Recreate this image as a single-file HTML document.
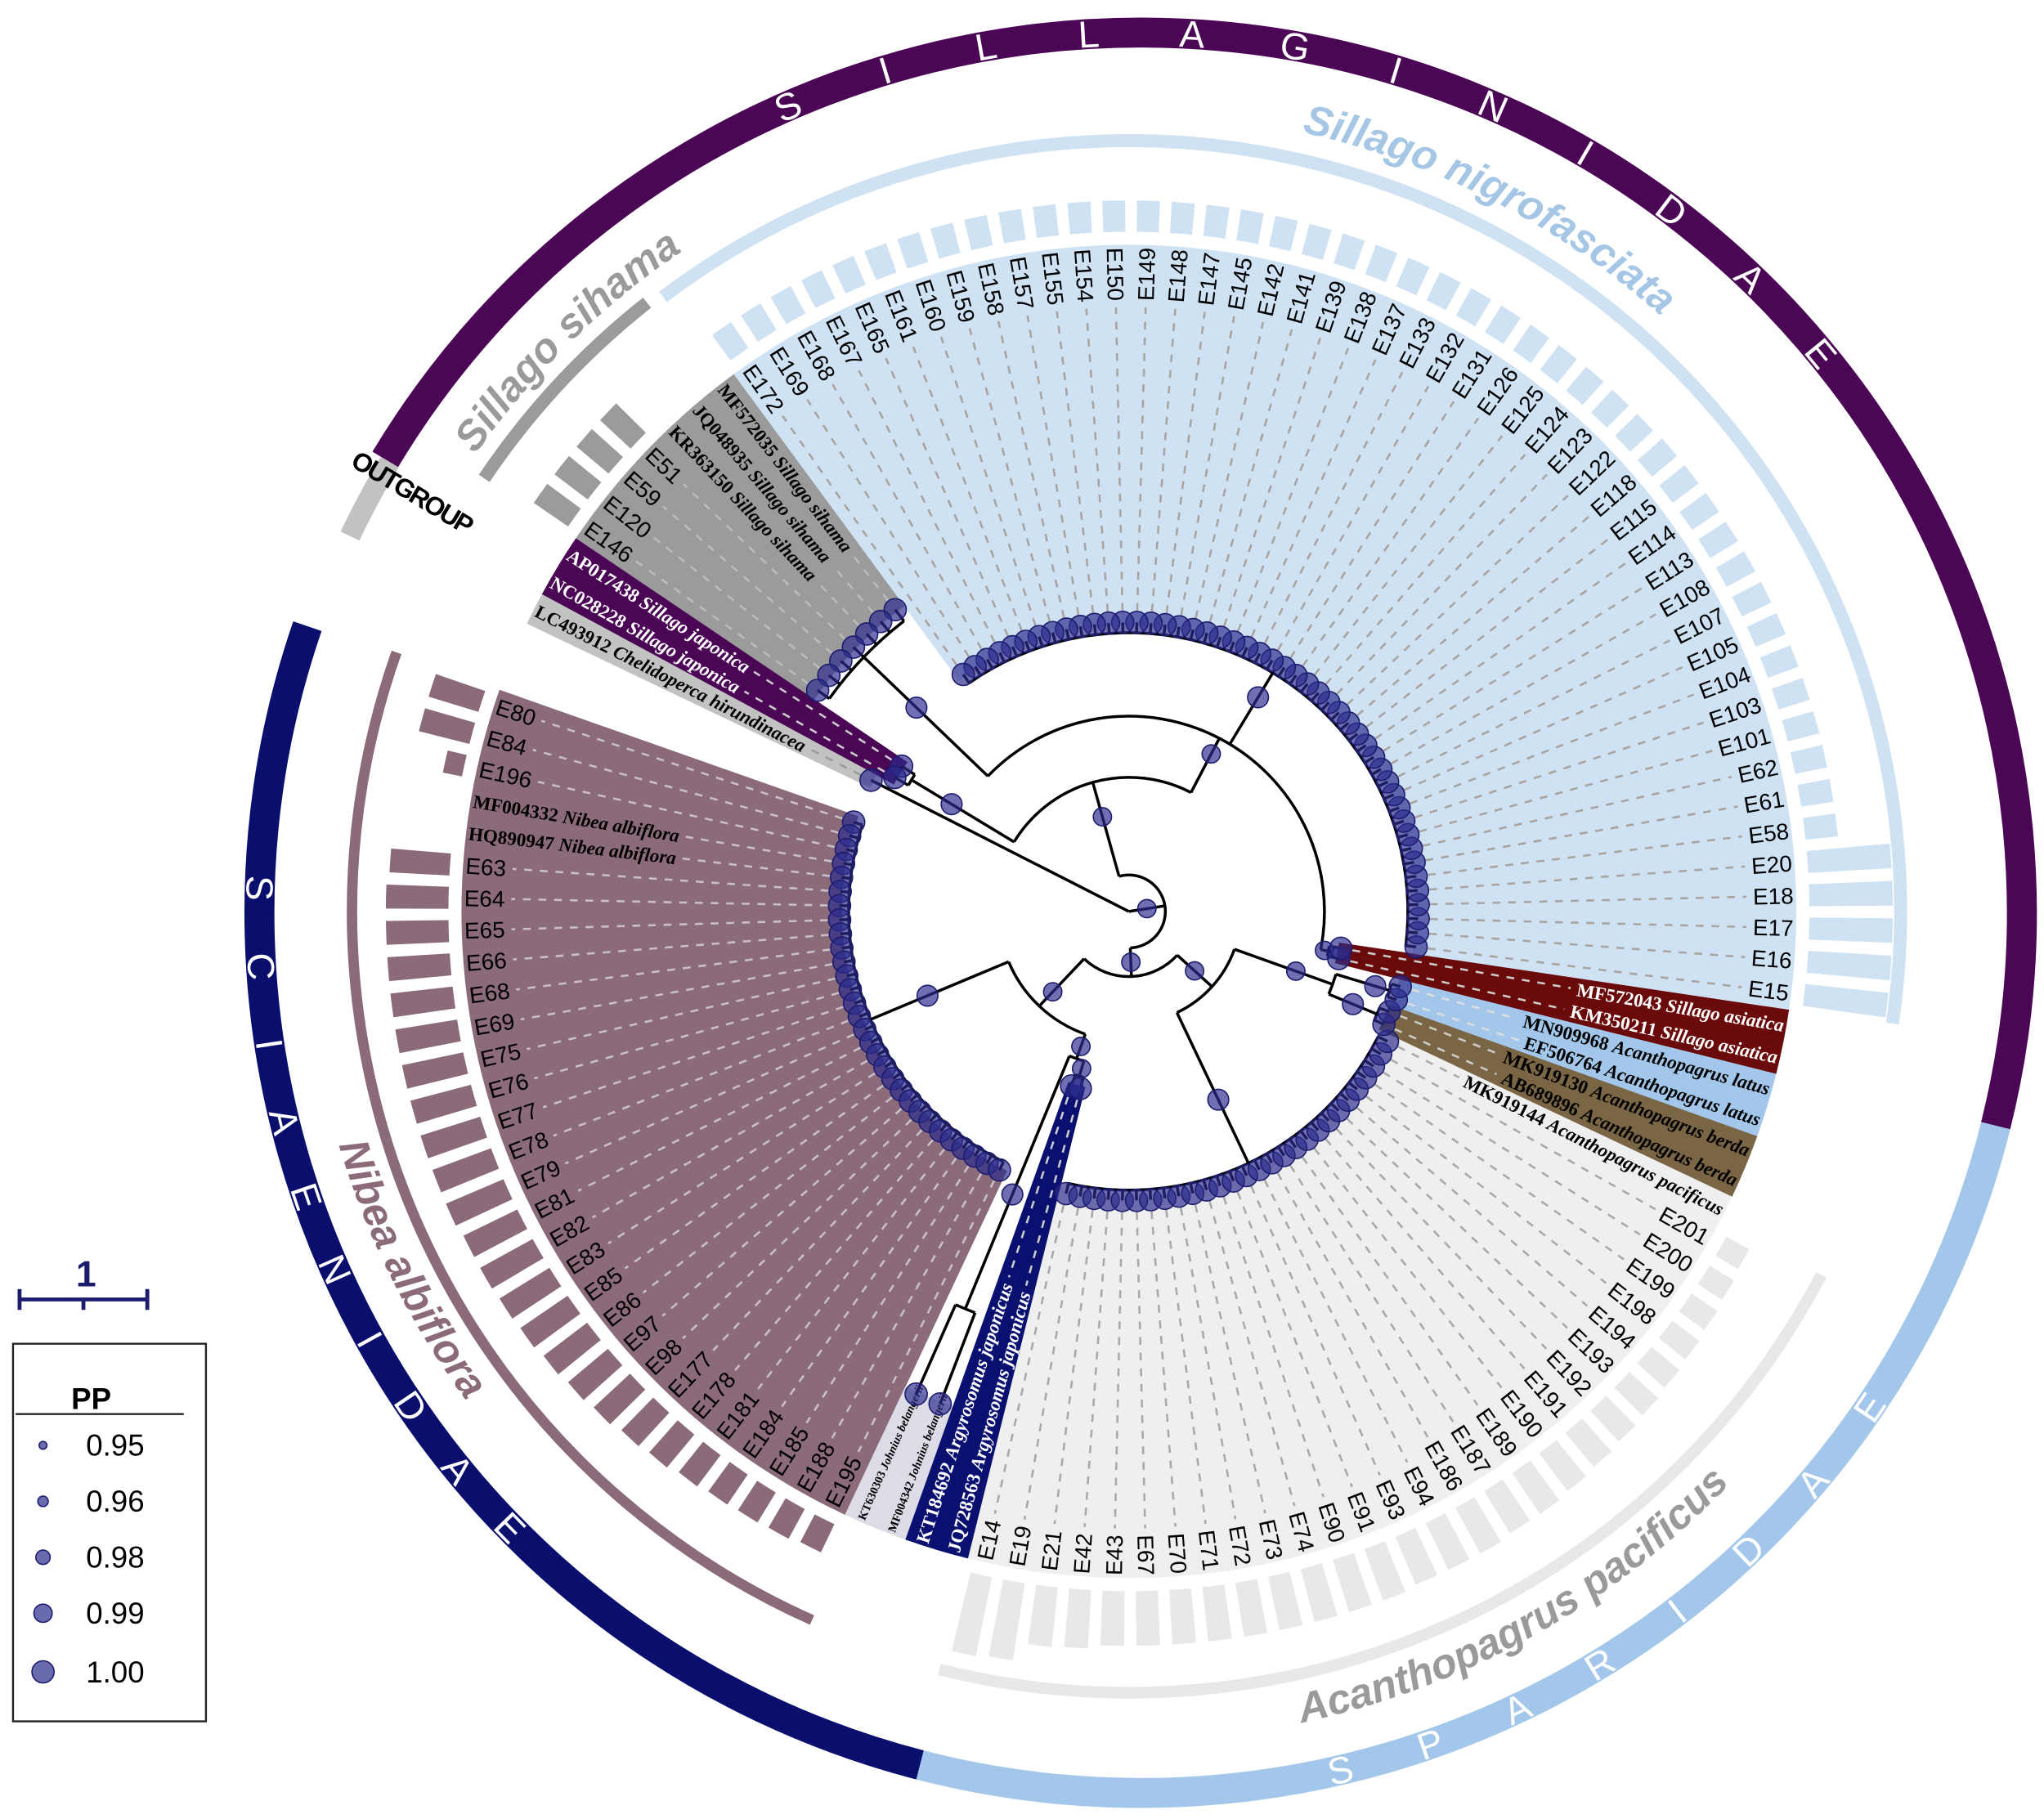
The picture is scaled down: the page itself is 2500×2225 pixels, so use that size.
<!DOCTYPE html>
<html><head><meta charset="utf-8">
<style>
html,body{margin:0;padding:0;background:#fff;overflow:hidden}
svg{display:block}
</style></head>
<body>
<svg id="chart" xmlns="http://www.w3.org/2000/svg" viewBox="0 0 1568 1397" width="2500" height="2225" preserveAspectRatio="none">
<defs id="defs"></defs>
<g id="layer-bands"></g>
<g id="layer-bars"></g>
<g id="layer-arcs"></g>
<g id="layer-ring"></g>
<g id="layer-labels"></g>
<g id="layer-tree"></g>
<g id="layer-dots"></g>
<g id="legend">
  <g stroke="#1c1c6e" stroke-width="3" fill="none">
    <line x1="15" y1="998" x2="113" y2="998"/>
    <line x1="15" y1="990" x2="15" y2="1006"/>
    <line x1="64" y1="998" x2="64" y2="1006"/>
    <line x1="113" y1="990" x2="113" y2="1006"/>
  </g>
  <text x="66" y="988" text-anchor="middle" font-family="Liberation Sans, sans-serif" font-size="28" font-weight="bold" fill="#1c1c6e">1</text>
  <rect x="10" y="1032" width="148" height="290" fill="#fff" stroke="#222" stroke-width="1.5"/>
  <text x="70" y="1082" text-anchor="middle" font-family="Liberation Sans, sans-serif" font-size="23" font-weight="bold">PP</text>
  <line x1="12" y1="1086" x2="141" y2="1086" stroke="#222" stroke-width="1.5"/>
  <g><circle cx="33" cy="1110" r="3" fill="#2b2b8c" fill-opacity="0.7" stroke="#1c1c6e"/><text x="66" y="1118" font-family="Liberation Sans, sans-serif" font-size="23">0.95</text></g>
  <g><circle cx="33" cy="1153" r="4" fill="#2b2b8c" fill-opacity="0.7" stroke="#1c1c6e"/><text x="66" y="1161" font-family="Liberation Sans, sans-serif" font-size="23">0.96</text></g>
  <g><circle cx="33" cy="1196" r="5.5" fill="#2b2b8c" fill-opacity="0.7" stroke="#1c1c6e"/><text x="66" y="1204" font-family="Liberation Sans, sans-serif" font-size="23">0.98</text></g>
  <g><circle cx="33" cy="1239" r="7" fill="#2b2b8c" fill-opacity="0.7" stroke="#1c1c6e"/><text x="66" y="1247" font-family="Liberation Sans, sans-serif" font-size="23">0.99</text></g>
  <g><circle cx="33" cy="1284" r="8.5" fill="#2b2b8c" fill-opacity="0.7" stroke="#1c1c6e"/><text x="66" y="1292" font-family="Liberation Sans, sans-serif" font-size="23">1.00</text></g>
</g>
</svg>
<script>
// ---------- data (leaf order = decreasing angle from E80) ----------
const nibeaNames=["E80","E84","E196","MF004332 Nibea albiflora","HQ890947 Nibea albiflora","E63","E64","E65","E66","E68","E69","E75","E76","E77","E78","E79","E81","E82","E83","E85","E86","E97","E98","E177","E178","E181","E184","E185","E188","E195"];
const nibeaBars=[40,40,15,0,0,46,48,48,48,48,48,48,48,48,48,48,46,46,45,44,42,40,38,35,33,30,28,27,26,24];
const johniusNames=["KT630303 Johnius belangerii","MF004342 Johnius belangerii"];
const argyroNames=["KT184692 Argyrosomus japonicus","JQ728563 Argyrosomus japonicus"];
const pacNames=["E14","E19","E21","E42","E43","E67","E70","E71","E72","E73","E74","E90","E91","E93","E94","E186","E187","E189","E190","E191","E192","E193","E194","E198","E199","E200","E201","MK919144 Acanthopagrus pacificus"];
const pacBars=[62,60,46,45,42,42,42,42,42,42,42,42,42,40,40,40,38,38,36,34,32,30,28,26,24,22,20,0];
const berdaNames=["AB689896 Acanthopagrus berda","MK919130 Acanthopagrus berda"];
const latusNames=["EF506764 Acanthopagrus latus","MN909968 Acanthopagrus latus"];
const asiaticaNames=["KM350211 Sillago asiatica","MF572043 Sillago asiatica"];
const nigroNames=["E15","E16","E17","E18","E20","E58","E61","E62","E101","E103","E104","E105","E107","E108","E113","E114","E115","E118","E122","E123","E124","E125","E126","E131","E132","E133","E137","E138","E139","E141","E142","E145","E147","E148","E149","E150","E154","E155","E157","E158","E159","E160","E161","E165","E167","E168","E169","E172"];
const nigroBars=[64,64,64,64,64,25,25,25,25,25,25,25,25,25,25,25,25,25,24,24,24,24,24,24,24,24,24,24,24,24,24,24,24,24,24,24,24,24,24,24,24,24,24,24,24,24,24,24];
const sihamaNames=["MF572035 Sillago sihama","JQ048935 Sillago sihama","KR363150 Sillago sihama","E51","E59","E120","E146"];
const sihamaBars=[0,0,0,32,32,32,32];
const japonicaNames=["AP017438 Sillago japonica","NC028228 Sillago japonica"];
const outgroupNames=["LC493912 Chelidoperca hirundinacea"];
// tip depth (branch length radius) per clade, same order as clades below
const tipDepth=[222,405,141,222,214,216,165,222,293,207,222];

// ---------- styling config ----------
const clades=[
 {key:"nibea",names:nibeaNames,bars:nibeaBars,band:"#8b6b79",bar:"#8b6b79",txt:"#000",dash:"#c9c0c4"},
 {key:"johnius",names:johniusNames,bars:null,band:"#dcdbe6",txt:"#000",dash:"#aaa",small:true},
 {key:"argyrosomus",names:argyroNames,bars:null,band:"#0a1070",txt:"#fff",dash:"#ccc"},
 {key:"pacificus",names:pacNames,bars:pacBars,band:"#efefef",bar:"#e8e8e8",txt:"#000",dash:"#a8a8a8"},
 {key:"berda",names:berdaNames,bars:null,band:"#7a6545",txt:"#000",dash:"#ccc"},
 {key:"latus",names:latusNames,bars:null,band:"#a3c7ea",txt:"#000",dash:"#ddd"},
 {key:"asiatica",names:asiaticaNames,bars:null,band:"#6b0a0a",txt:"#fff",dash:"#ccc"},
 {key:"nigrofasciata",names:nigroNames,bars:nigroBars,band:"#cfe2f3",bar:"#cfe2f3",txt:"#000",dash:"#a9a39f"},
 {key:"sihama",names:sihamaNames,bars:sihamaBars,band:"#9b9b9b",bar:"#9b9b9b",txt:"#000",dash:"#bbb"},
 {key:"japonica",names:japonicaNames,bars:null,band:"#4b0755",txt:"#fff",dash:"#ccc"},
 {key:"outgroup",names:outgroupNames,bars:null,band:"#c2c2c2",txt:"#000",dash:"#999"}
];
const C=[866,700], RC=[875,701];
const A0=198, STEP=2.808, RL=510, RB=512, RBAR=522;
const NS="http://www.w3.org/2000/svg";
function P(r,a,c){c=c||C;const t=a*Math.PI/180;return [(c[0]+r*Math.cos(t)).toFixed(2),(c[1]+r*Math.sin(t)).toFixed(2)];}
function arcD(r,a1,a2,c){const p1=P(r,a1,c),p2=P(r,a2,c);const sw=a2>a1?1:0;const lg=Math.abs(a2-a1)>180?1:0;return `M${p1[0]},${p1[1]} A${r},${r} 0 ${lg} ${sw} ${p2[0]},${p2[1]}`;}
function sector(r0,r1,a1,a2,c){const p1=P(r1,a1,c),p2=P(r1,a2,c),p3=P(r0,a2,c),p4=P(r0,a1,c);const lg=Math.abs(a2-a1)>180?1:0;const sw=a2>a1?1:0;
 return `M${p1[0]},${p1[1]} A${r1},${r1} 0 ${lg} ${sw} ${p2[0]},${p2[1]} L${p3[0]},${p3[1]} A${r0},${r0} 0 ${lg} ${1-sw} ${p4[0]},${p4[1]} Z`;}
function mk(tag,parent){const e=document.createElementNS(NS,tag);parent.appendChild(e);return e;}
const L={bands:document.getElementById('layer-bands'),bars:document.getElementById('layer-bars'),arcs:document.getElementById('layer-arcs'),ring:document.getElementById('layer-ring'),labels:document.getElementById('layer-labels'),tree:document.getElementById('layer-tree'),dots:document.getElementById('layer-dots'),defs:document.getElementById('defs')};

// ---------- leaves ----------
const leaves=[];const cladeRange=[];
clades.forEach((cl,ci)=>{const s=leaves.length;cl.names.forEach((n,j)=>{leaves.push({name:n,bar:cl.bars?cl.bars[j]:0,ci:ci,depth:tipDepth[ci]});});cladeRange.push([s,leaves.length-1]);});
const ang=i=>A0-i*STEP;

leaves.forEach((lf,i)=>{
 const cl=clades[lf.ci];const a=ang(i);
 const b=mk('path',L.bands);
 
 
 b.setAttribute('d',sector(lf.depth-2,RB,a+STEP/2+0.02,a-STEP/2-0.02));
 b.setAttribute('fill',cl.band);
 if(lf.bar>0){const br=mk('path',L.bars);
  
  
  br.setAttribute('d',sector(RBAR,RBAR+lf.bar,a+STEP*0.33,a-STEP*0.33));
  br.setAttribute('fill',cl.bar);}
 const norm=((a%360)+540)%360-180;const flip=!(norm>-90&&norm<90);
 const t=mk('text',L.labels);
 
 
 t.setAttribute('transform',`translate(${C[0]},${C[1]}) rotate(${flip?a+180:a})`);
 t.setAttribute('x',flip?-RL:RL);t.setAttribute('y',0);t.setAttribute('dy','0.35em');
 t.setAttribute('text-anchor',flip?'start':'end');
 t.setAttribute('fill',cl.txt);
 const sp=lf.name.indexOf(' ');
 if(sp<0){t.setAttribute('font-family','Liberation Sans, sans-serif');t.setAttribute('font-size','17.5');t.textContent=lf.name;}
 else{t.setAttribute('font-family','Liberation Serif, serif');t.setAttribute('font-weight','bold');t.setAttribute('font-size',cl.small?'9':'14.5');
  const s1=mk('tspan',t);s1.textContent=lf.name.slice(0,sp)+' ';
  const s2=mk('tspan',t);s2.setAttribute('font-style','italic');s2.textContent=lf.name.slice(sp+1);}
 let w=40;try{w=t.getComputedTextLength();}catch(e){}
 const r0=lf.depth+9,r1=RL-w-5;
 if(r1>r0){const d=mk('path',L.labels);
  
  
  const p1=P(r0,a),p2=P(r1,a);d.setAttribute('d',`M${p1[0]},${p1[1]} L${p2[0]},${p2[1]}`);
  d.setAttribute('stroke',cl.dash);d.setAttribute('stroke-width','1.6');d.setAttribute('stroke-dasharray','6 6');}
});

// ---------- clade arcs & titles ----------
function cladeArc(name,color,r,a1,a2,w){const e=mk('path',L.arcs);
 
 
 e.setAttribute('d',arcD(r,a1,a2));e.setAttribute('fill','none');e.setAttribute('stroke',color);e.setAttribute('stroke-width',w);}
cladeArc('arc-sillago-nigrofasciata','#cfe2f3',592,ang(cladeRange[7][0])+1.3,ang(cladeRange[8][0])+0.6,10);
cladeArc('arc-sillago-sihama','#9b9b9b',596,ang(cladeRange[8][0])-0.6,ang(cladeRange[8][1])-1.5,10);
cladeArc('arc-nibea-albiflora','#8b6b79',596,ang(cladeRange[0][0])+1.5,ang(cladeRange[0][1])-2.5,8);
cladeArc('arc-acanthopagrus-pacificus','#e8e8e8',600,ang(cladeRange[3][0])+1.5,ang(cladeRange[3][1])+1,9);
function title(name,str,color,r,a1,a2,id){const p=mk('path',L.defs);p.setAttribute('id',id);p.setAttribute('d',arcD(r,a1,a2));
 const t=mk('text',L.arcs);
 
 
 t.setAttribute('font-family','Liberation Sans, sans-serif');t.setAttribute('font-weight','bold');t.setAttribute('font-style','italic');t.setAttribute('font-size','32');t.setAttribute('fill',color);
 const tp=mk('textPath',t);tp.setAttribute('href','#'+id);tp.textContent=str;}
title('title-sillago-nigrofasciata','Sillago nigrofasciata','#a6c6e6',613,282.5,345,'tp1');
title('title-sillago-sihama','Sillago sihama','#9a9a9a',612,215,260,'tp2');
title('title-nibea-albiflora','Nibea albiflora','#8b6b79',632,163.5,120,'tp3');
title('title-acanthopagrus-pacificus','Acanthopagrus pacificus','#9a9a9a',637,78,20,'tp4');

// ---------- family ring ----------
function ringSeg(name,color,a1,a2,r,w){const e=mk('path',L.ring);
 
 
 e.setAttribute('d',arcD(r,a1,a2,RC));e.setAttribute('fill','none');e.setAttribute('stroke',color);e.setAttribute('stroke-width',w);}
ringSeg('ring-sillaginidae','#4b0755',211,374,676,23);
ringSeg('ring-sparidae','#a3c7ea',14,104.5,676,23);
ringSeg('ring-sciaenidae','#0a0f6e',104.5,199,676,23);
ringSeg('ring-outgroup','#c2c2c2',205.5,211,672,16);
function ringWord(name,word,a0,step,outward){word.split('').forEach((ch,k)=>{const a=a0+k*step;const p=P(676,a,RC);
 const t=mk('text',L.ring);
 
 
 t.setAttribute('x',p[0]);t.setAttribute('y',p[1]);t.setAttribute('dy','0.35em');t.setAttribute('text-anchor','middle');
 t.setAttribute('transform',`rotate(${outward?a+90:a-90} ${p[0]} ${p[1]})`);
 t.setAttribute('font-family','Liberation Sans, sans-serif');t.setAttribute('font-size','29');t.setAttribute('fill','#fff');t.textContent=ch;});}
ringWord('family-label-sillaginidae','SILLAGINIDAE',246.4,6.74,true);
ringWord('family-label-sciaenidae','SCIAENIDAE',181.6,-5.1,false);
ringWord('family-label-sparidae','SPARIDAE',76.9,-6.1,false);
(function(){const t=mk('text',L.ring);
 
 
 t.setAttribute('x',316);t.setAttribute('y',385);t.setAttribute('text-anchor','middle');t.setAttribute('transform','rotate(31 316 378)');
 t.setAttribute('font-family','Liberation Sans, sans-serif');t.setAttribute('font-size','20');t.setAttribute('font-weight','bold');t.setAttribute('letter-spacing','-1.5');t.textContent='OUTGROUP';})();

// ---------- tree ----------
function star(r,a,b){const k=[];for(let i=a;i<=b;i++)k.push({leaf:i});return {r:r,kids:k};}
const R=cladeRange;
const tree={r:0,kids:[{leaf:R[10][0]},{r:28,kids:[
 {r:103,kids:[star(195,R[9][0],R[9][1]),{r:150,kids:[star(282,R[8][0],R[8][1]),star(214,R[7][0],R[7][1]),star(156,R[6][0],R[6][1])]}]},
 {r:50,kids:[{r:100,kids:[star(215,R[0][0],R[0][1]),{r:120,kids:[star(330,R[1][0],R[1][1]),star(132,R[2][0],R[2][1])]}]},
             {r:86,kids:[star(214,R[3][0],R[3][1]),{r:166,kids:[star(206,R[4][0],R[4][1]),star(209,R[5][0],R[5][1])]}]}]}
]}]};
function layout(n){if(n.leaf!==undefined){n.a=ang(n.leaf);n.rr=leaves[n.leaf].depth;return;}
 n.kids.forEach(layout);const as=n.kids.map(k=>k.a);n.amax=Math.max(...as);n.amin=Math.min(...as);n.a=(n.amax+n.amin)/2;n.rr=n.r;}
layout(tree);
function line(r0,r1,a){const e=mk('path',L.tree);
 
 
 const p1=P(r0,a),p2=P(r1,a);e.setAttribute('d',`M${p1[0]},${p1[1]} L${p2[0]},${p2[1]}`);e.setAttribute('stroke','#000');e.setAttribute('stroke-width','2.2');e.setAttribute('fill','none');}
function dot(r,a,s,name){const p=P(r,a);const e=mk('circle',L.dots);
 
 
 e.setAttribute('cx',p[0]);e.setAttribute('cy',p[1]);e.setAttribute('r',s);e.setAttribute('fill','#2b2b8c');e.setAttribute('fill-opacity','0.68');e.setAttribute('stroke','#1c1c6e');e.setAttribute('stroke-width','1');}
function draw(n){if(n.leaf!==undefined)return;
 if(n.r>0){const e=mk('path',L.tree);
  
  
  e.setAttribute('d',arcD(n.r,n.amax,n.amin));e.setAttribute('stroke','#000');e.setAttribute('stroke-width','2.2');e.setAttribute('fill','none');}
 n.kids.forEach(k=>{line(n.r,k.rr,k.a);
  if(k.leaf===undefined){dot((n.r+k.rr)/2+(k.rr-n.r>40?10:0),k.a,k.rr>180?8:7,'node-support-dot');}
  draw(k);});}
draw(tree);
leaves.forEach((lf,i)=>{dot(lf.depth,ang(i),8.5,'tip-dot');});
</script>
</body></html>
